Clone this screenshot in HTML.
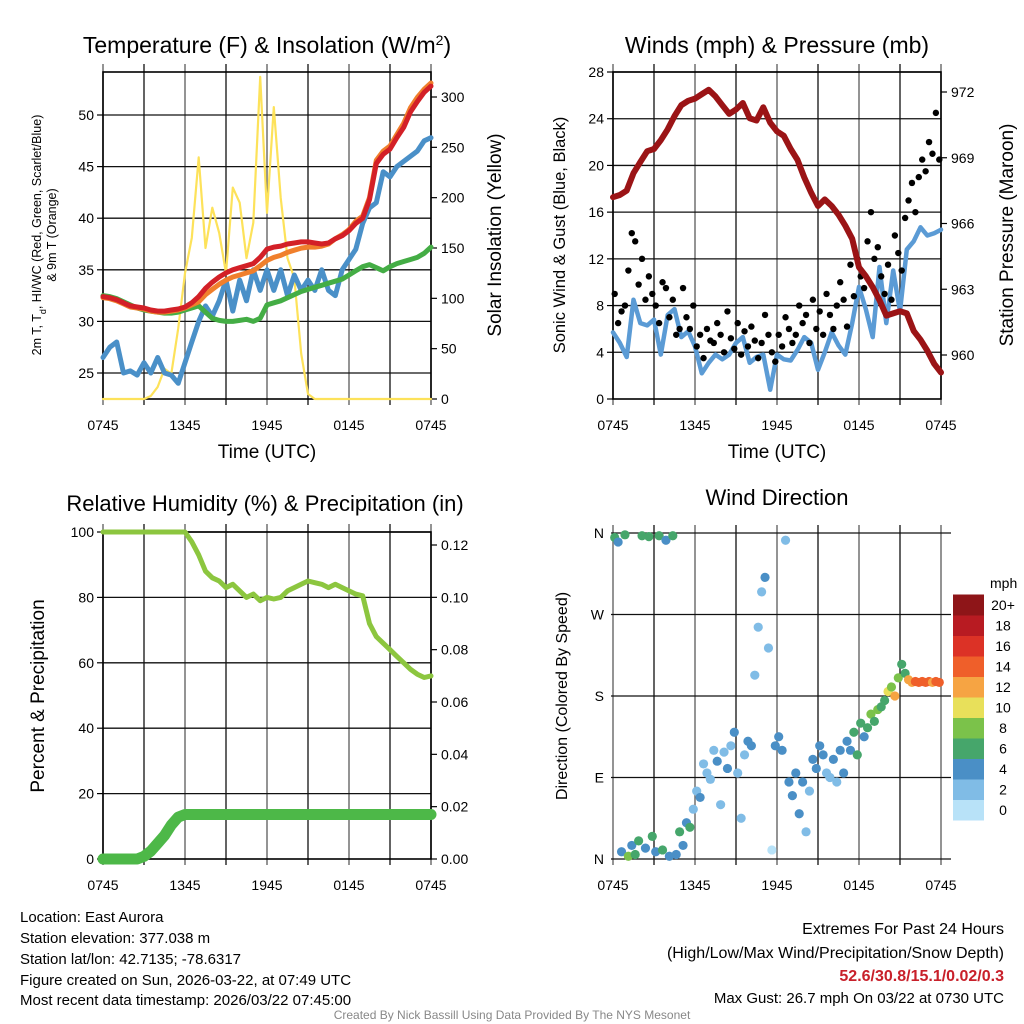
<!DOCTYPE html>
<html><head><meta charset="utf-8"><style>
body{margin:0;background:#fff}
svg{display:block;font-family:"Liberation Sans",sans-serif}
</style></head><body>
<svg id="c" width="1024" height="1024" viewBox="0 0 1024 1024">
<text x="267" y="53" font-size="23" text-anchor="middle">Temperature (F) &amp; Insolation (W/m<tspan baseline-shift="super" font-size="14">2</tspan>)</text>
<text x="777" y="53" font-size="23" text-anchor="middle">Winds (mph) &amp; Pressure (mb)</text>
<text x="265" y="511" font-size="22" text-anchor="middle">Relative Humidity (%) &amp; Precipitation (in)</text>
<text x="777" y="505" font-size="22" text-anchor="middle">Wind Direction</text>

<text x="267" y="458" font-size="19" text-anchor="middle">Time (UTC)</text>
<text x="777" y="458" font-size="19" text-anchor="middle">Time (UTC)</text>

<text transform="translate(41,235) rotate(-90)" font-size="12.5" text-anchor="middle">2m T, T<tspan baseline-shift="sub" font-size="9">d</tspan>, HI/WC (Red, Green, Scarlet/Blue)</text>
<text transform="translate(56,235) rotate(-90)" font-size="12.5" text-anchor="middle">&amp; 9m T (Orange)</text>
<text transform="translate(501,235) rotate(-90)" font-size="19" text-anchor="middle">Solar Insolation (Yellow)</text>
<text transform="translate(565,235) rotate(-90)" font-size="16.5" text-anchor="middle">Sonic Wind &amp; Gust (Blue, Black)</text>
<text transform="translate(1013,235) rotate(-90)" font-size="19" text-anchor="middle">Station Pressure (Maroon)</text>
<text transform="translate(44,696) rotate(-90)" font-size="19" text-anchor="middle">Percent &amp; Precipitation</text>
<text transform="translate(567,696) rotate(-90)" font-size="16" text-anchor="middle">Direction (Colored By Speed)</text>

<g font-size="15">
<text x="20" y="922">Location: East Aurora</text>
<text x="20" y="943">Station elevation: 377.038 m</text>
<text x="20" y="964">Station lat/lon: 42.7135; -78.6317</text>
<text x="20" y="985">Figure created on Sun, 2026-03-22, at 07:49 UTC</text>
<text x="20" y="1005">Most recent data timestamp: 2026/03/22 07:45:00</text>
</g>
<g text-anchor="end">
<text x="1004" y="934" font-size="16">Extremes For Past 24 Hours</text>
<text x="1004" y="958" font-size="16">(High/Low/Max Wind/Precipitation/Snow Depth)</text>
<text x="1004" y="981" font-size="16" font-weight="bold" fill="#c8202a">52.6/30.8/15.1/0.02/0.3</text>
<text x="1004" y="1003" font-size="15">Max Gust: 26.7 mph On 03/22 at 0730 UTC</text>
</g>
<text x="512" y="1019" font-size="12" fill="#888" text-anchor="middle">Created By Nick Bassill Using Data Provided By The NYS Mesonet</text>
<g id="marks"></g>
</svg>
<script>
const timeLabels=["0745","1345","1945","0145","0745"];
const tempTicks=[25,30,35,40,45,50];
const solarTicks=[0,50,100,150,200,250,300];
const windTicks=[0,4,8,12,16,20,24,28];
const presTicks=[960,963,966,969,972];
const rhTicks=[0,20,40,60,80,100];
const precipTicks=[0,0.02,0.04,0.06,0.08,0.10,0.12];
const dirTicks=["N","E","S","W","N"];
const speedBins=["0","2","4","6","8","10","12","14","16","18","20+"];
const binColors=["#b8e2f8","#80bce6","#4a8fc6","#46a66b","#7bc24a","#e8e05a","#f6a443","#ef5f2a","#dc3226","#b81b22","#8e1518"];

const tempRed=[32.4,32.3,32.1,31.8,31.5,31.4,31.3,31.1,31.0,31.0,31.1,31.2,31.4,31.8,32.4,33.2,33.8,34.3,34.7,35.0,35.2,35.4,35.6,36.2,37.0,37.2,37.3,37.5,37.6,37.7,37.7,37.6,37.5,37.6,38.0,38.3,38.8,39.5,40.0,41.8,45.3,46.2,46.7,47.8,48.8,50.3,51.3,52.2,52.8];
const tempOrange=[32.3,32.2,32.0,31.7,31.4,31.3,31.2,31.0,30.9,30.9,31.0,31.1,31.3,31.6,31.9,32.6,33.1,33.6,34.0,34.3,34.5,34.7,34.9,35.4,35.9,36.2,36.4,36.7,36.9,37.1,37.2,37.2,37.3,37.5,38.0,38.4,38.9,39.7,40.2,42.0,45.6,46.5,47.0,48.1,49.2,50.7,51.7,52.5,53.1];
const tempGreen=[32.5,32.4,32.2,31.9,31.6,31.3,31.1,31.0,30.9,30.8,30.8,30.9,31.1,31.3,31.5,30.9,30.3,30.1,30.0,30.0,30.1,30.2,30.0,30.3,31.6,31.8,32.0,32.3,32.6,32.9,33.1,33.3,33.5,33.7,33.9,34.1,34.5,34.9,35.3,35.5,35.2,34.9,35.3,35.6,35.8,36.0,36.2,36.6,37.2];
const dewBlue=[26.5,27.5,28.0,25.0,25.2,24.8,26.0,25.0,26.5,25.0,24.8,24.0,26.0,28.0,30.0,31.5,30.5,32.0,34.0,31.0,34.0,32.0,35.0,33.0,35.0,33.0,35.0,32.5,34.5,33.0,34.0,33.0,35.0,33.0,32.5,35.0,36.0,37.0,39.5,41.0,41.5,44.5,44.0,45.0,45.5,46.0,46.5,47.5,47.8];
const solar=[0,0,0,0,0,0,0,3,12,30,25,70,125,160,240,150,190,165,125,210,195,140,175,320,185,290,200,140,120,45,5,0,0,0,0,0,0,0,0,0,0,0,0,0,0,0,0,0,0];

const pressure=[967.2,967.3,967.5,968.3,968.8,969.3,969.4,969.8,970.3,970.9,971.4,971.6,971.7,971.9,972.1,971.8,971.4,971.0,971.2,971.5,970.8,970.7,971.3,970.6,970.2,970.0,969.4,968.9,968.1,967.4,966.8,967.1,966.8,966.4,965.9,965.3,964.0,963.6,963.1,962.5,961.8,961.9,962.0,961.9,961.1,960.7,960.2,959.6,959.2];
const wind=[5.7,4.8,3.6,8.5,6.5,6.3,6.8,3.8,7.2,7.7,5.3,5.8,4.5,2.2,3.1,3.8,3.4,3.8,4.8,5.3,3.1,3.6,3.8,0.8,3.8,3.4,3.3,4.2,5.3,4.8,2.5,4.0,5.7,4.6,3.8,6.5,9.6,7.7,5.3,11.3,6.5,11.0,7.5,12.8,13.5,14.7,14.0,14.2,14.5];
const gust=[9.0,6.5,7.5,8.0,11.0,14.2,13.5,9.8,12.0,8.5,10.5,9.0,8.0,6.5,10.0,9.5,7.0,8.5,5.5,6.0,9.5,7.0,6.0,8.0,4.5,5.5,3.5,6.0,5.0,4.8,6.5,5.5,4.0,7.5,5.2,4.3,6.5,3.8,5.8,4.5,6.2,5.0,3.5,4.8,7.2,5.5,4.0,3.2,5.5,4.5,7.0,6.0,4.8,5.5,8.0,6.5,7.2,4.8,8.5,6.0,7.5,5.5,9.0,7.2,6.0,8.0,10.0,8.5,6.2,11.5,8.8,12.0,10.5,9.5,13.5,16.0,12.0,13.0,10.5,9.0,11.5,8.5,14.0,12.5,11.0,15.5,17.0,18.5,16.0,19.0,20.5,19.5,22.0,21.0,24.5,20.5];

const rh=[100,100,100,100,100,100,100,100,100,100,100,100,100,97,93,88,86,85,83,84,82,80,81,79,80,79.5,80,82,83,84,85,84.5,84,83,84,83,82,81,80.5,72,68,66,64,62,60,58,56.5,55.5,56];
const precip=[0,0,0,0,0,0,0.001,0.003,0.006,0.009,0.013,0.016,0.017,0.017,0.017,0.017,0.017,0.017,0.017,0.017,0.017,0.017,0.017,0.017,0.017,0.017,0.017,0.017,0.017,0.017,0.017,0.017,0.017,0.017,0.017,0.017,0.017,0.017,0.017,0.017,0.017,0.017,0.017,0.017,0.017,0.017,0.017,0.017,0.017];

const windDir=[355,350,8,358,3,15,5,20,357,12,356,25,8,357,10,352,3,357,5,30,15,40,35,55,75,68,105,95,88,120,108,60,118,100,125,140,95,45,115,130,125,203,256,295,311,233,10,125,135,120,352,85,70,95,50,85,30,75,110,100,125,115,95,90,110,85,120,95,130,120,140,115,150,135,145,160,152,165,168,175,185,190,180,200,215,205,198,195,196,195,196,195,196,195,196,195];
const dirSpeed=[6,4,5,7,8,5,6,7,7,4,6,6,5,6,7,4,4,6,5,6,4,4,6,2,3,4,2,2,3,2,4,2,3,4,3,5,3,2,3,4,4,2,3,2,4,2,1,4,4,5,2,4,4,5,4,5,2,3,4,4,5,4,3,3,4,3,5,5,4,5,6,6,7,4,6,9,7,8,7,7,10,9,12,8,6,7,12,13,14,14,15,14,15,13,14,15];

const NS="http://www.w3.org/2000/svg";
const root=document.getElementById('marks');
function mk(tag,attrs,parent){const e=document.createElementNS(NS,tag);for(const k in attrs)e.setAttribute(k,attrs[k]);(parent||root).appendChild(e);return e;}
function lin(d0,d1,r0,r1){return v=>r0+(v-d0)*(r1-r0)/(d1-d0);}

function panel(name,x0,x1,y0,y1,hLines,grid){
  const g=mk('g',{});
  
  
  for(let k=0;k<=8;k++){const x=x0+k*(x1-x0)/8;
    const l=mk('line',{x1:x,x2:x,y1:y0-8,y2:y1+6,stroke:k%2?'#222':'#666','stroke-width':1.4},g);
    
    }
  hLines.forEach(y=>{const l=mk('line',{x1:grid?x0-2:x0,x2:grid?x1+10:x1,y1:y,y2:y,stroke:'#111','stroke-width':1.3},g);
    
    });
  if(!grid){const r=mk('rect',{x:x0,y:y0,width:x1-x0,height:y1-y0,fill:'none',stroke:'#000','stroke-width':1.6},g);
    
    }
  timeLabels.forEach((t,k)=>{const tx=mk('text',{x:x0+k*(x1-x0)/4,y:y1+31,'font-size':14,'text-anchor':'middle'},g);tx.textContent=t;
    
    });
  return g;
}
function yTicks(name,vals,sc,x,side,fmt){vals.forEach(v=>{const y=sc(v);
  const l=mk('line',{x1:x,x2:x+(side<0?-6:6),y1:y,y2:y,stroke:'#000','stroke-width':1.2});
  
  
  const t=mk('text',{x:x+(side<0?-9:10),y:y+5,'font-size':14,'text-anchor':side<0?'end':'start'});t.textContent=fmt?fmt(v):v;
  
  });}
function path(name,arr,xs,ys,color,w,parent){let d='';arr.forEach((v,i)=>{d+=(i?'L':'M')+xs(i).toFixed(1)+','+ys(v).toFixed(1);});
  const p=mk('path',{d:d,fill:'none',stroke:color,'stroke-width':w,'stroke-linejoin':'round','stroke-linecap':'round'},parent);
  
  return p;}

// Panel 1
{const x0=103,x1=431,y0=72,y1=399;
 const ty=lin(25,50,373,115), sy=lin(0,300,399,97), xs=lin(0,48,x0,x1);
 panel('temp',x0,x1,y0,y1,tempTicks.map(ty));
 yTicks('temp-y',tempTicks,ty,x0,-1);
 yTicks('solar-y',solarTicks,sy,x1,1);
 path('solar-line',solar,xs,sy,'#fde25a',2.2);
 path('dewpoint-line',dewBlue,xs,ty,'#4a90c8',5);
 path('heat-index-line',tempGreen,xs,ty,'#44ad45',5);
 path('temp-9m-line',tempOrange,xs,ty,'#f07f2c',5);
 path('temp-2m-line',tempRed,xs,ty,'#d32027',5);
}
// Panel 2
{const x0=613,x1=941,y0=72,y1=399;
 const wy=lin(0,28,399,72), py=lin(960,972,355,92), xs=lin(0,48,x0,x1), gx=lin(0,96,x0,x1);
 panel('wind',x0,x1,y0,y1,windTicks.slice(1).map(wy));
 yTicks('wind-y',windTicks,wy,x0,-1);
 yTicks('pressure-y',presTicks,py,x1,1);
 path('wind-line',wind,xs,wy,'#5b9bd5',4.5);
 gust.forEach((v,j)=>{const c=mk('circle',{cx:gx(j+0.5),cy:wy(v),r:3.2,fill:'#000'});
  
  });
 path('pressure-line',pressure,xs,py,'#9b1416',6);
}
// Panel 3
{const x0=103,x1=431,y0=532,y1=859;
 const ry=lin(0,100,859,532), py=lin(0,0.12,859,545), xs=lin(0,48,x0,x1);
 panel('rh',x0,x1,y0,y1,rhTicks.slice(1).map(ry));
 yTicks('rh-y',rhTicks,ry,x0,-1);
 yTicks('precip-y',precipTicks,py,x1,1,v=>v.toFixed(2));
 path('precip-line',precip,xs,py,'#4db848',11);
 path('rh-line',rh,xs,ry,'#8cc63f',5);
}
// Panel 4
{const x0=613,x1=941,y0=533,y1=859;
 const dy=lin(0,360,859,533), gx=lin(0,96,x0,x1);
 panel('dir',x0,x1,y0,y1,[0,90,180,270,360].map(dy),true);
 dirTicks.forEach((t,k)=>{const tx=mk('text',{x:x0-9,y:dy(k*90)+5,'font-size':14,'text-anchor':'end'});tx.textContent=t;
  
  });
 windDir.forEach((d,j)=>{const b=Math.min(10,Math.floor(dirSpeed[j]/2));
  const c=mk('circle',{cx:gx(j+0.5),cy:dy(d),r:4.6,fill:binColors[b]});
  
  });
 const lt=mk('text',{x:990,y:588,'font-size':14,'text-anchor':'start'});lt.textContent='mph';
 
 
 speedBins.forEach((s,k)=>{const h=20.5, y=820-(k+1)*h;
  const r=mk('rect',{x:953,y:y,width:31,height:h+0.5,fill:binColors[k]});
  
  
  const t=mk('text',{x:1003,y:y+h/2+5,'font-size':14,'text-anchor':'middle'});t.textContent=s;
  
  });
}
</script>
</body></html>
